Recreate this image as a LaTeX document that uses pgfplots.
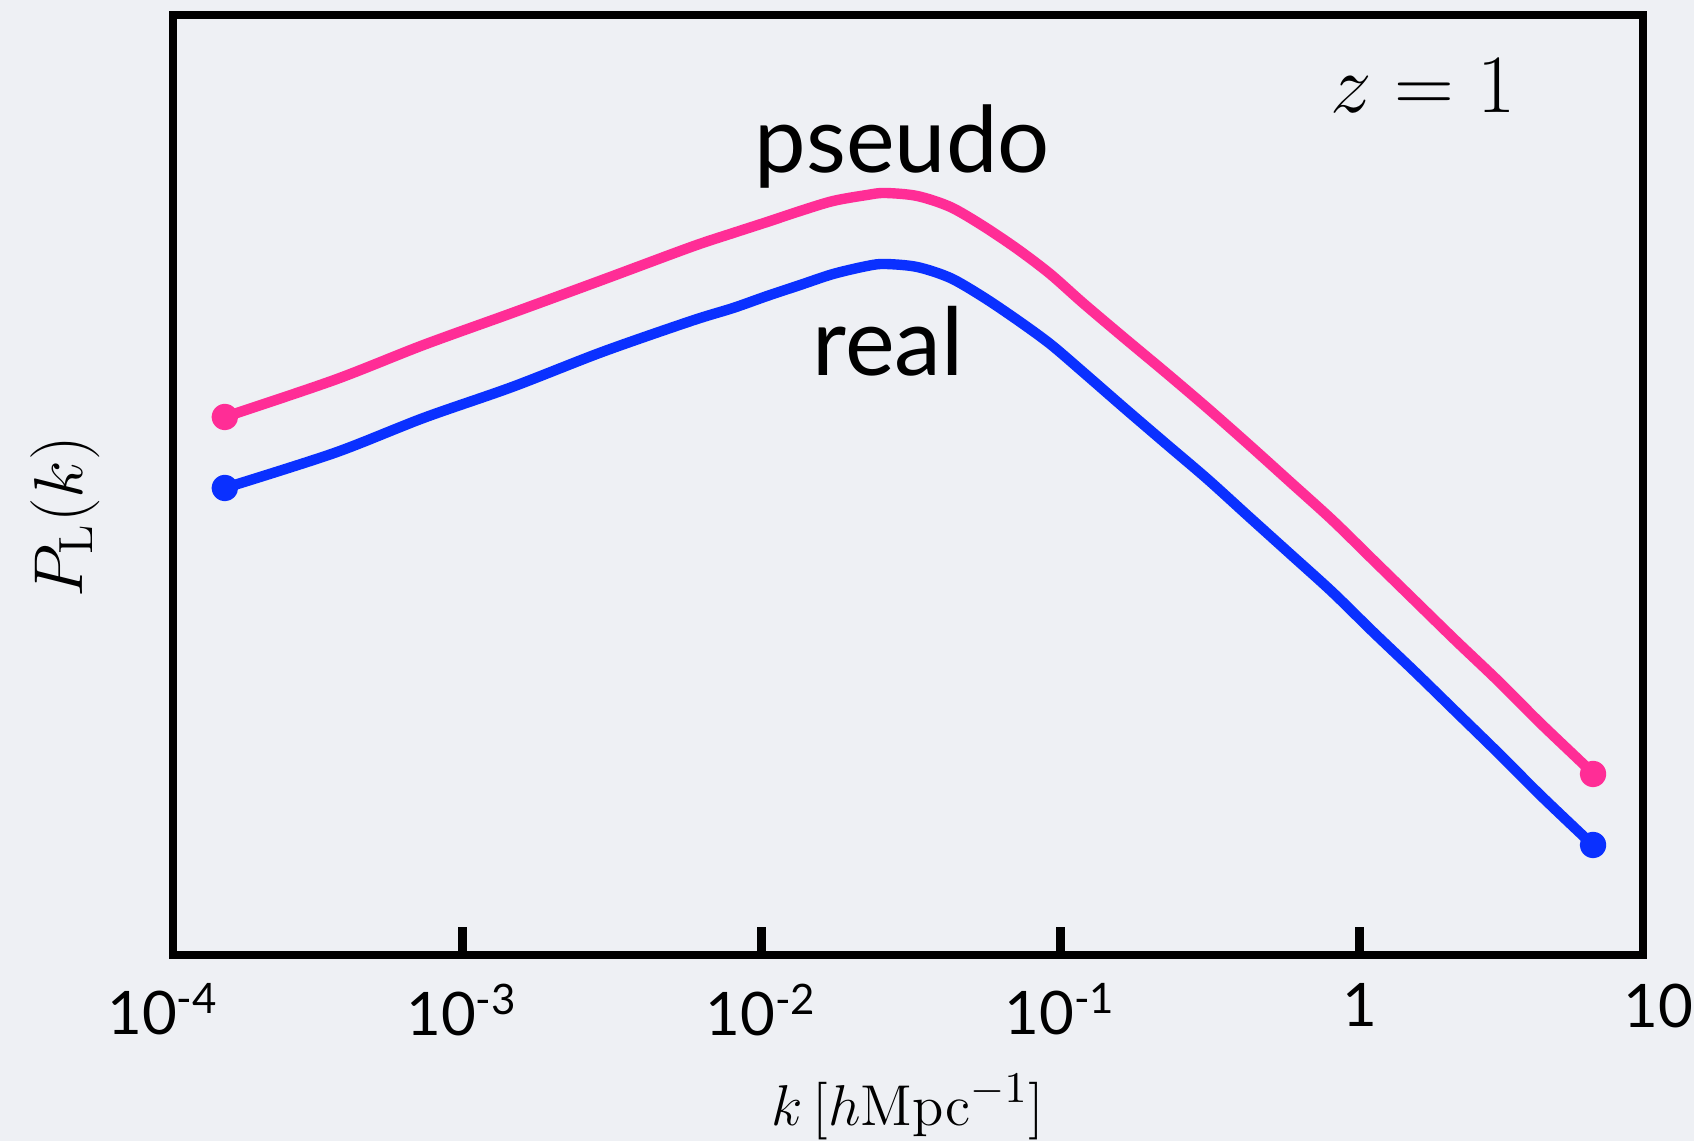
\documentclass[border=0pt]{standalone}
\usepackage[no-math]{fontspec}
\setmainfont{Lato}
\usepackage{pgfplots}
\usepackage{pgfplotstable}
\pgfplotsset{compat=1.18}
\definecolor{bg}{HTML}{EEF0F4}
\definecolor{pseudocol}{HTML}{FF2D96}
\definecolor{realcol}{HTML}{0A30FF}

% k [h/Mpc], curve heights (arbitrary units)
\pgfplotstableread{
k        pseudo real
1.61e-4  538    467
3.74e-4  575    502
7.43e-4  610    537
1.47e-3  642    568
2.94e-3  675    603
5.83e-3  708    634
8.06e-3  722    647
1.047e-2 733    659
1.35e-2  744    670
1.74e-2  754    681
2.26e-2  760    689
2.59e-2  762    691
3.32e-2  759    688
4.29e-2  748    677
5.52e-2  729    658
7.18e-2  706    635
9.25e-2  681    611
0.119    652    583
0.1636   617    547
0.226    582    511
0.310    547    476
0.428    510    438
0.587    473    401
0.811    435    363
1.111    395    323
1.535    354    283
2.105    314    243
2.91     274    202
3.99     233    161
5.51     193    121
6.04     181    110
}\pk

\newcommand{\tickfont}{\fontsize{15}{18}\selectfont}

\begin{document}
\begin{tikzpicture}
\path[use as bounding box, fill=bg] (0,0) rectangle (423.5pt,285.25pt);
\begin{axis}[
  at={(43.25pt,46.5pt)}, anchor=south west,
  scale only axis, width=367.5pt, height=235pt,
  xmode=log, xmin=1.08e-4, xmax=8.87,
  ymin=0, ymax=940,
  xtick={1e-3,1e-2,1e-1,1},
  xticklabels={10\textsuperscript{-3},10\textsuperscript{-2},10\textsuperscript{-1},1},
  xminorticks=false,
  ytick=\empty,
  xtick pos=left, tick align=inside,
  major tick length=7pt,
  every tick/.style={black, line width=2.2pt},
  axis line style={line width=1.8pt},
  xticklabel style={font=\tickfont, inner sep=0pt, yshift=-7pt},
  xlabel={$k\,[h\mathrm{Mpc}^{-1}]$},
  ylabel={$P_{\mathrm{L}}(k)$},
  every axis x label/.style={at={(rel axis cs:0.5,0)}, anchor=center, yshift=-38pt, font=\fontsize{15.5}{18}\selectfont},
  every axis y label/.style={at={([xshift=-27pt]rel axis cs:0,0.466)}, anchor=center, rotate=90, font=\fontsize{18}{22}\selectfont},
  clip=false,
]
\addplot[pseudocol, line width=2.6pt, line cap=round, line join=round, smooth,
  mark=*, mark size=2pt, mark indices={1,31}] table[x=k, y=pseudo] {\pk};
\addplot[realcol, line width=2.6pt, line cap=round, line join=round, smooth,
  mark=*, mark size=2pt, mark indices={1,31}] table[x=k, y=real] {\pk};

\node[font=\fontsize{23}{27}\selectfont, anchor=base] at (axis cs:0.02963,782) {pseudo};
\node[font=\fontsize{23.5}{27}\selectfont, anchor=base] at (axis cs:0.02657,579) {real};
\node[font=\fontsize{20}{24}\selectfont, anchor=base] at (axis cs:1.633,842) {$z=1$};

\node[font=\tickfont, anchor=north, inner sep=0pt, yshift=-7pt] at (axis cs:1e-4,0) {10\textsuperscript{-4}};
\node[font=\tickfont, anchor=north, inner sep=0pt, yshift=-7pt] at (axis cs:10,0) {10};
\end{axis}
\end{tikzpicture}
\end{document}
